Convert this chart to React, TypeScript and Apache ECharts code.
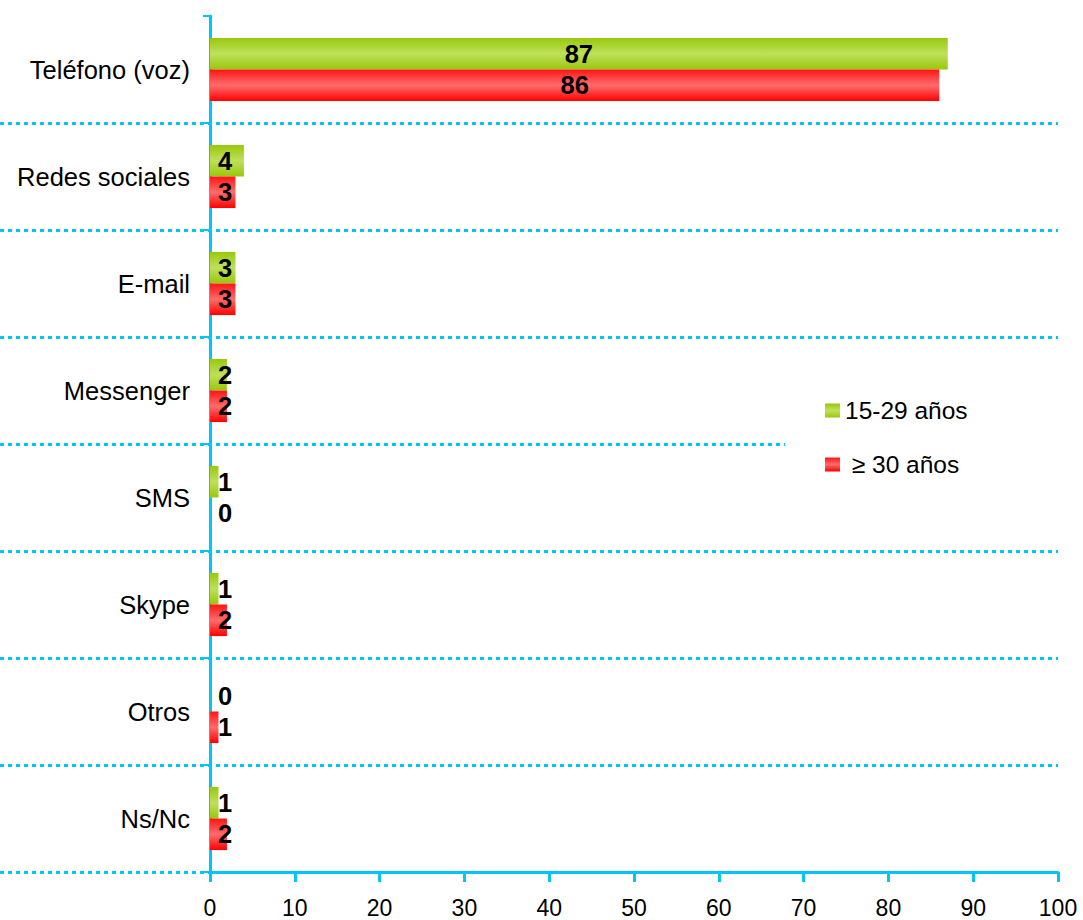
import React, { useEffect, useRef } from 'react';
import * as echarts from 'echarts';

const categories = ['Teléfono (voz)', 'Redes sociales', 'E-mail', 'Messenger', 'SMS', 'Skype', 'Otros', 'Ns/Nc'];
const seriesNames = ['15-29 años', '≥ 30 años'];
const young = [87, 4, 3, 2, 1, 1, 0, 1];
const older = [86, 3, 3, 2, 0, 2, 1, 2];
const xMin = 0;
const xMax = 100;
const xInterval = 10;

const CYAN = '#00c6f6';
const FONT = '"Liberation Sans", Arial, sans-serif';

const greenGrad = new echarts.graphic.LinearGradient(0, 0, 0, 1, [
  { offset: 0, color: '#98c80a' },
  { offset: 0.5, color: '#bee05c' },
  { offset: 1, color: '#98c80a' },
]);
const redGrad = new echarts.graphic.LinearGradient(0, 0, 0, 1, [
  { offset: 0, color: '#ff1414' },
  { offset: 0.5, color: '#ff6c6c' },
  { offset: 1, color: '#ff0000' },
]);

function toData(values: number[]) {
  return values.map((v) => ({
    value: v,
    label: v >= 10 ? { position: 'inside' } : { position: 'insideLeft', distance: 8 },
  }));
}

export default function App() {
  const ref = useRef<HTMLDivElement>(null);
  useEffect(() => {
    document.body.style.margin = '0';
    if (!ref.current) return;
    const chart = echarts.init(ref.current, null, { renderer: 'svg' });
    const valueLabel = {
      show: true,
      color: '#000',
      fontWeight: 'bold',
      fontSize: 25.5,
      fontFamily: FONT,
    };
    chart.setOption({
      animation: false,
      textStyle: { fontFamily: FONT },
      grid: [
        { left: 210, right: 25, top: 16, bottom: 48 },
        { left: 0, right: 25, top: 16, bottom: 48 },
      ],
      legend: {
        orient: 'vertical',
        left: 785,
        top: 378,
        padding: [20, 120, 20, 40],
        backgroundColor: '#ffffff',
        itemGap: 29,
        itemWidth: 15,
        itemHeight: 14,
        icon: 'rect',
        data: seriesNames,
        formatter: (n: string) => (n.startsWith('≥') ? ' ' + n : n),
        textStyle: { fontSize: 24.5, color: '#000', fontFamily: FONT },
      },
      xAxis: [
        {
          gridIndex: 0,
          type: 'value',
          min: xMin,
          max: xMax,
          interval: xInterval,
          axisLine: { show: true, lineStyle: { color: CYAN, width: 3 } },
          axisTick: { show: true, length: 10, lineStyle: { color: CYAN, width: 3 } },
          axisLabel: { fontSize: 23, color: '#000', margin: 24, fontFamily: FONT },
          splitLine: { show: false },
        },
        { gridIndex: 1, type: 'value', min: xMin, max: xMax, show: false },
      ],
      yAxis: [
        {
          gridIndex: 0,
          type: 'category',
          data: categories,
          inverse: true,
          axisLine: { show: true, lineStyle: { color: CYAN, width: 3 } },
          axisTick: { show: true, length: 7, lineStyle: { color: CYAN, width: 2 } },
          axisLabel: { fontSize: 25.5, color: '#000', margin: 20, fontFamily: FONT },
          splitLine: { show: false },
        },
        {
          gridIndex: 1,
          type: 'category',
          data: categories,
          inverse: true,
          axisLine: { show: false },
          axisTick: { show: false },
          axisLabel: { show: false },
          splitLine: {
            show: true,
            showMinLine: false,
            showMaxLine: true,
            lineStyle: { color: CYAN, width: 3, type: [4, 4] },
          },
        },
      ],
      series: [
        {
          name: seriesNames[0],
          type: 'bar',
          xAxisIndex: 0,
          yAxisIndex: 0,
          data: toData(young),
          barGap: '0%',
          barCategoryGap: '41%',
          itemStyle: { color: greenGrad },
          label: valueLabel,
          z: 3,
        },
        {
          name: seriesNames[1],
          type: 'bar',
          xAxisIndex: 0,
          yAxisIndex: 0,
          data: toData(older),
          barGap: '0%',
          barCategoryGap: '41%',
          itemStyle: { color: redGrad },
          label: valueLabel,
          z: 3,
        },
      ],
    });
    return () => chart.dispose();
  }, []);
  return <div ref={ref} style={{ width: 1083, height: 920 }} />;
}
